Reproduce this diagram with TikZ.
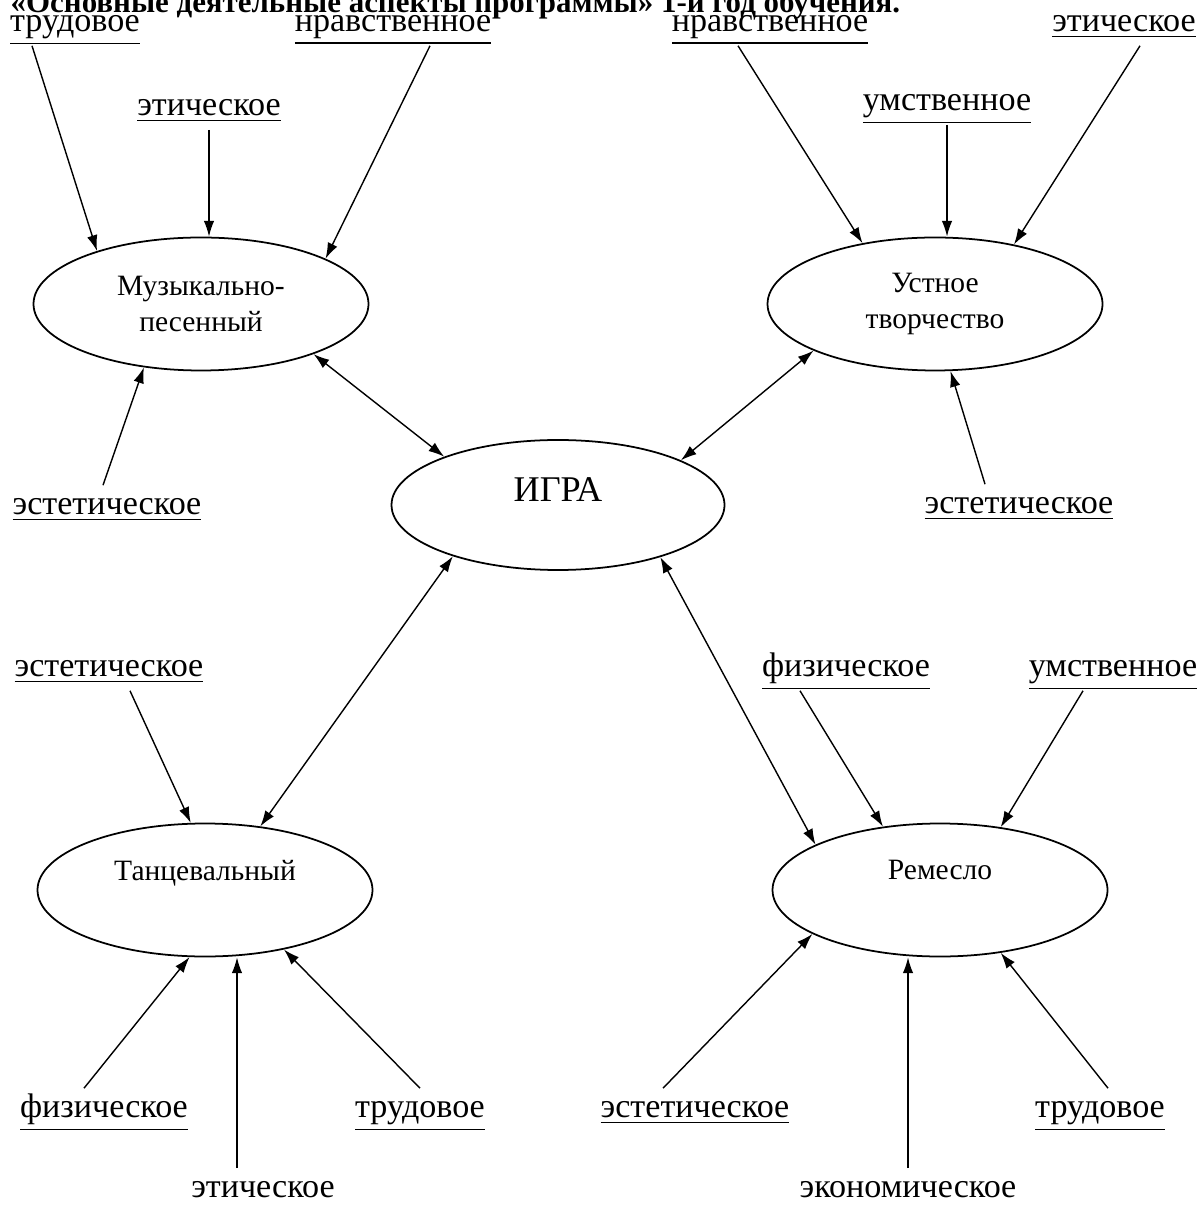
\documentclass[tikz,border=0pt]{standalone}
\usepackage{fontspec}
\setmainfont{Liberation Serif}
\usetikzlibrary{positioning,shapes.geometric,arrows.meta}
\newcommand\labfont{\fontsize{9.7}{11}\selectfont}
\newcommand\elfont{\fontsize{8.4}{10}\selectfont}

\begin{document}
\begin{tikzpicture}[on grid,
    oval/.style={draw,ellipse,line width=0.5pt,minimum width=3.35cm,minimum height=1.33cm,font=\elfont,align=center},
    asp/.style={font=\labfont,inner sep=1pt,text height=7pt,text depth=3pt},
    arr/.style={-{Latex[length=4.5pt,width=3pt]},line width=0.4pt},
    dbl/.style={{Latex[length=4.5pt,width=3pt]}-{Latex[length=4.5pt,width=3pt]},line width=0.4pt}]
    \useasboundingbox (0,0) rectangle (12.02,-12.05);
    \node[anchor=base west,inner sep=0pt,font=\bfseries\fontsize{8.8}{10}\selectfont] (title) at (0.10,-0.125) {«Основные деятельные аспекты программы» 1-й год обучения.};
    \node[oval,minimum width=3.33cm,minimum height=1.3cm,font=\fontsize{10.3}{12}\selectfont,text depth=0.3cm] (igra) at (5.58,-5.05) {ИГРА};
    \node[oval,above left=2.01cm and 3.57cm of igra] (mus) {Музыкально-\\песенный};
    \node[oval,above right=2.01cm and 3.77cm of igra] (ust) {Устное\\творчество};
    \node[oval,below left=3.85cm and 3.53cm of igra,text depth=0.4cm] (tanc) {Танцевальный};
    \node[oval,below right=3.85cm and 3.82cm of igra,text depth=0.4cm] (rem) {Ремесло};
    \node[asp,above left=2.80cm and 1.26cm of mus] (m-trud) {\underline{трудовое}};
    \node[asp,above right=2.80cm and 1.92cm of mus] (m-nrav) {\underline{нравственное}};
    \node[asp,above right=1.96cm and 0.08cm of mus] (m-eth) {\underline{этическое}};
    \node[asp,below left=2.03cm and 0.94cm of mus] (m-est) {\underline{эстетическое}};
    \node[asp,above left=2.80cm and 1.65cm of ust] (u-nrav) {\underline{нравственное}};
    \node[asp,above right=2.80cm and 1.89cm of ust] (u-eth) {\underline{этическое}};
    \node[asp,above right=2.01cm and 0.12cm of ust] (u-umst) {\underline{умственное}};
    \node[asp,below right=2.02cm and 0.84cm of ust] (u-est) {\underline{эстетическое}};
    \node[asp,above left=2.21cm and 0.96cm of tanc] (t-est) {\underline{эстетическое}};
    \node[asp,below left=2.20cm and 1.01cm of tanc] (t-fiz) {\underline{физическое}};
    \node[asp,below right=2.20cm and 2.15cm of tanc] (t-trud) {\underline{трудовое}};
    \node[asp,below right=3.00cm and 0.58cm of tanc] (t-eth) {этическое};
    \node[asp,above left=2.21cm and 0.94cm of rem] (r-fiz) {\underline{физическое}};
    \node[asp,above right=2.21cm and 1.73cm of rem] (r-umst) {\underline{умственное}};
    \node[asp,below left=2.20cm and 2.45cm of rem] (r-est) {\underline{эстетическое}};
    \node[asp,below right=2.20cm and 1.60cm of rem] (r-trud) {\underline{трудовое}};
    \node[asp,below left=3.00cm and 0.32cm of rem] (r-ekon) {экономическое};
    \coordinate (t-eth-top) at ([xshift=-0.26cm]t-eth.north);
    \draw[arr] ([xshift=-0.43cm]m-trud.south) -- (mus.153);
    \draw[arr] ([xshift=0.37cm]m-nrav.south) -- (mus.20);
    \draw[arr] (m-eth.south) -- (m-eth.south |- mus.north);
    \draw[arr] ([xshift=-0.04cm]m-est.north) -- (mus.228);
    \draw[arr] ([xshift=-0.32cm]u-nrav.south) -- (ust.140);
    \draw[arr] (u-umst.south) -- (u-umst.south |- ust.north);
    \draw[arr] ([xshift=0.16cm]u-eth.south) -- (ust.37);
    \draw[arr] ([xshift=-0.34cm]u-est.north) -- (ust.283);
    \draw[dbl] (mus.336) -- (igra.157);
    \draw[dbl] (ust.201) -- (igra.20);
    \draw[dbl] (igra.206) -- (tanc.49);
    \draw[dbl] (igra.333) -- (rem.160);
    \draw[arr] ([xshift=0.21cm]t-est.south) -- (tanc.102);
    \draw[arr] ([xshift=-0.2cm]t-fiz.north) -- (tanc.257);
    \draw[arr] (t-eth-top) -- (t-eth-top |- tanc.south);
    \draw[arr] (t-trud.north) -- (tanc.323);
    \draw[arr] ([xshift=-0.46cm]r-fiz.south) -- (rem.132);
    \draw[arr] ([xshift=-0.3cm]r-umst.south) -- (rem.46);
    \draw[arr] ([xshift=-0.32cm]r-est.north) -- (rem.199);
    \draw[arr] (r-ekon.north) -- (r-ekon.north |- rem.south);
    \draw[arr] ([xshift=0.08cm]r-trud.north) -- (rem.314);
\end{tikzpicture}
\end{document}
